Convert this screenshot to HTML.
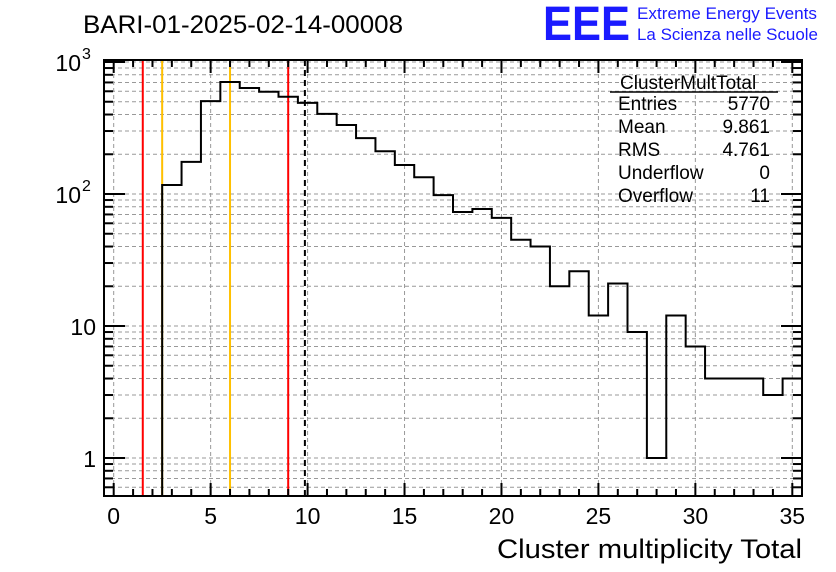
<!DOCTYPE html>
<html><head><meta charset="utf-8"><style>
body{margin:0;background:#fff;width:836px;height:572px;overflow:hidden}
svg{display:block;font-family:"Liberation Sans",sans-serif}
</style></head><body>
<svg id="c" width="836" height="572">
<text x="83" y="33" font-size="25" textLength="320" lengthAdjust="spacingAndGlyphs">BARI-01-2025-02-14-00008</text>
<text x="543" y="40" font-size="48" font-weight="bold" fill="#1a1aff" textLength="87" lengthAdjust="spacingAndGlyphs">EEE</text>
<text x="637" y="19" font-size="17" fill="#1a1aff" textLength="180" lengthAdjust="spacingAndGlyphs">Extreme Energy Events</text>
<text x="637" y="40" font-size="17" fill="#1a1aff" textLength="181" lengthAdjust="spacingAndGlyphs">La Scienza nelle Scuole</text>
<g id="grid"></g><g id="marks"></g><g id="axes"></g>
<g font-size="19">
<text x="620" y="89">ClusterMultTotal</text>
<line x1="610" y1="92" x2="778" y2="92" stroke="#000" stroke-width="1.5"/>
<text x="618" y="110">Entries</text><text x="770" y="110" text-anchor="end">5770</text>
<text x="618" y="133">Mean</text><text x="770" y="133" text-anchor="end">9.861</text>
<text x="618" y="156">RMS</text><text x="770" y="156" text-anchor="end">4.761</text>
<text x="618" y="179">Underflow</text><text x="770" y="179" text-anchor="end">0</text>
<text x="618" y="202">Overflow</text><text x="770" y="202" text-anchor="end">11</text>
</g>
<text x="802" y="558" font-size="27" text-anchor="end" textLength="305" lengthAdjust="spacingAndGlyphs">Cluster multiplicity Total</text>
</svg>
<script>
const binCenters=[3,4,5,6,7,8,9,10,11,12,13,14,15,16,17,18,19,20,21,22,23,24,25,26,27,28,29,30,31,32,33,34,35];
const counts=[117,175,505,705,635,595,545,490,405,333,265,211,166,134,98,73,77,66,45,40,20,26,12,21,9,1,12,7,4,4,4,3,4];
const xTicks=[0,5,10,15,20,25,30,35];
const yTicks=[1,10,100,1000];
const yTickBase=["1","10","10","10"];
const yTickExp=["","","2","3"];
const redLines=[1.5,9.0];
const orangeLines=[2.5,6.0];
const meanLine=9.861;
const L=104,R=802,T=60,B=496,xmin=-0.5,xmax=35.5;
const X=v=>L+(v-xmin)/(xmax-xmin)*(R-L);
const Y=v=>458-132*Math.log10(v);
const NS="http://www.w3.org/2000/svg";
function mk(p,t,a){const e=document.createElementNS(NS,t);for(const k in a)e.setAttribute(k,a[k]);p.appendChild(e);return e;}
const grid=document.getElementById('grid'),marks=document.getElementById('marks'),axes=document.getElementById('axes');
const gs={stroke:"#999","stroke-dasharray":"4,3","stroke-width":1};
xTicks.forEach(t=>{const g=mk(grid,'line',Object.assign({x1:X(t),x2:X(t),y1:T,y2:B},gs));

});
for(let d=-1;d<=3;d++)for(let m=1;m<10;m++){const v=m*Math.pow(10,d);const y=Y(v);if(y<T||y>B)continue;
const g=mk(grid,'line',Object.assign({x1:L,x2:R,y1:y,y2:y},gs));

}
redLines.forEach(v=>{const l=mk(marks,'line',{x1:X(v),x2:X(v),y1:T,y2:B,stroke:"#f00","stroke-width":2});

});
orangeLines.forEach(v=>{const l=mk(marks,'line',{x1:X(v),x2:X(v),y1:T,y2:B,stroke:"#ffc000","stroke-width":2});

});
const ml=mk(marks,'line',{x1:X(meanLine),x2:X(meanLine),y1:T,y2:B,stroke:"#000","stroke-width":2,"stroke-dasharray":"6,4"});


let d="M"+X(binCenters[0]-0.5)+","+B;
binCenters.forEach((c,i)=>{const y=Y(counts[i]);d+=" L"+X(c-0.5)+","+y+" L"+X(c+0.5)+","+y;});
const h=mk(marks,'path',{d:d,fill:"none",stroke:"#000","stroke-width":2});


const fr=mk(axes,'rect',{x:L,y:T,width:R-L,height:B-T,fill:"none",stroke:"#000","stroke-width":2});


for(let v=0;v<=35;v++){const maj=v%5===0;const len=maj?13:7;
mk(axes,'line',{x1:X(v),x2:X(v),y1:B,y2:B-len,stroke:"#000","stroke-width":2});
mk(axes,'line',{x1:X(v),x2:X(v),y1:T,y2:T+len,stroke:"#000","stroke-width":2});}
xTicks.forEach(t=>{const tx=mk(axes,'text',{x:X(t),y:524,"font-size":23,"text-anchor":"middle"});tx.textContent=t;

});
for(let d2=-1;d2<=3;d2++)for(let m=1;m<10;m++){const v=m*Math.pow(10,d2);const y=Y(v);if(y<T||y>B)continue;const len=m===1?21:9;
mk(axes,'line',{x1:L,x2:L+len,y1:y,y2:y,stroke:"#000","stroke-width":2});
mk(axes,'line',{x1:R,x2:R-len,y1:y,y2:y,stroke:"#000","stroke-width":2});}
yTicks.forEach((t,i)=>{const e=yTickExp[i];
const tx=mk(axes,'text',{x:e?81:96,y:Y(t)+9,"font-size":23,"text-anchor":"end"});tx.textContent=yTickBase[i];


if(e){const s=mk(axes,'text',{x:82,y:Y(t)-3,"font-size":16});s.textContent=e;

}});
</script>
</body></html>
